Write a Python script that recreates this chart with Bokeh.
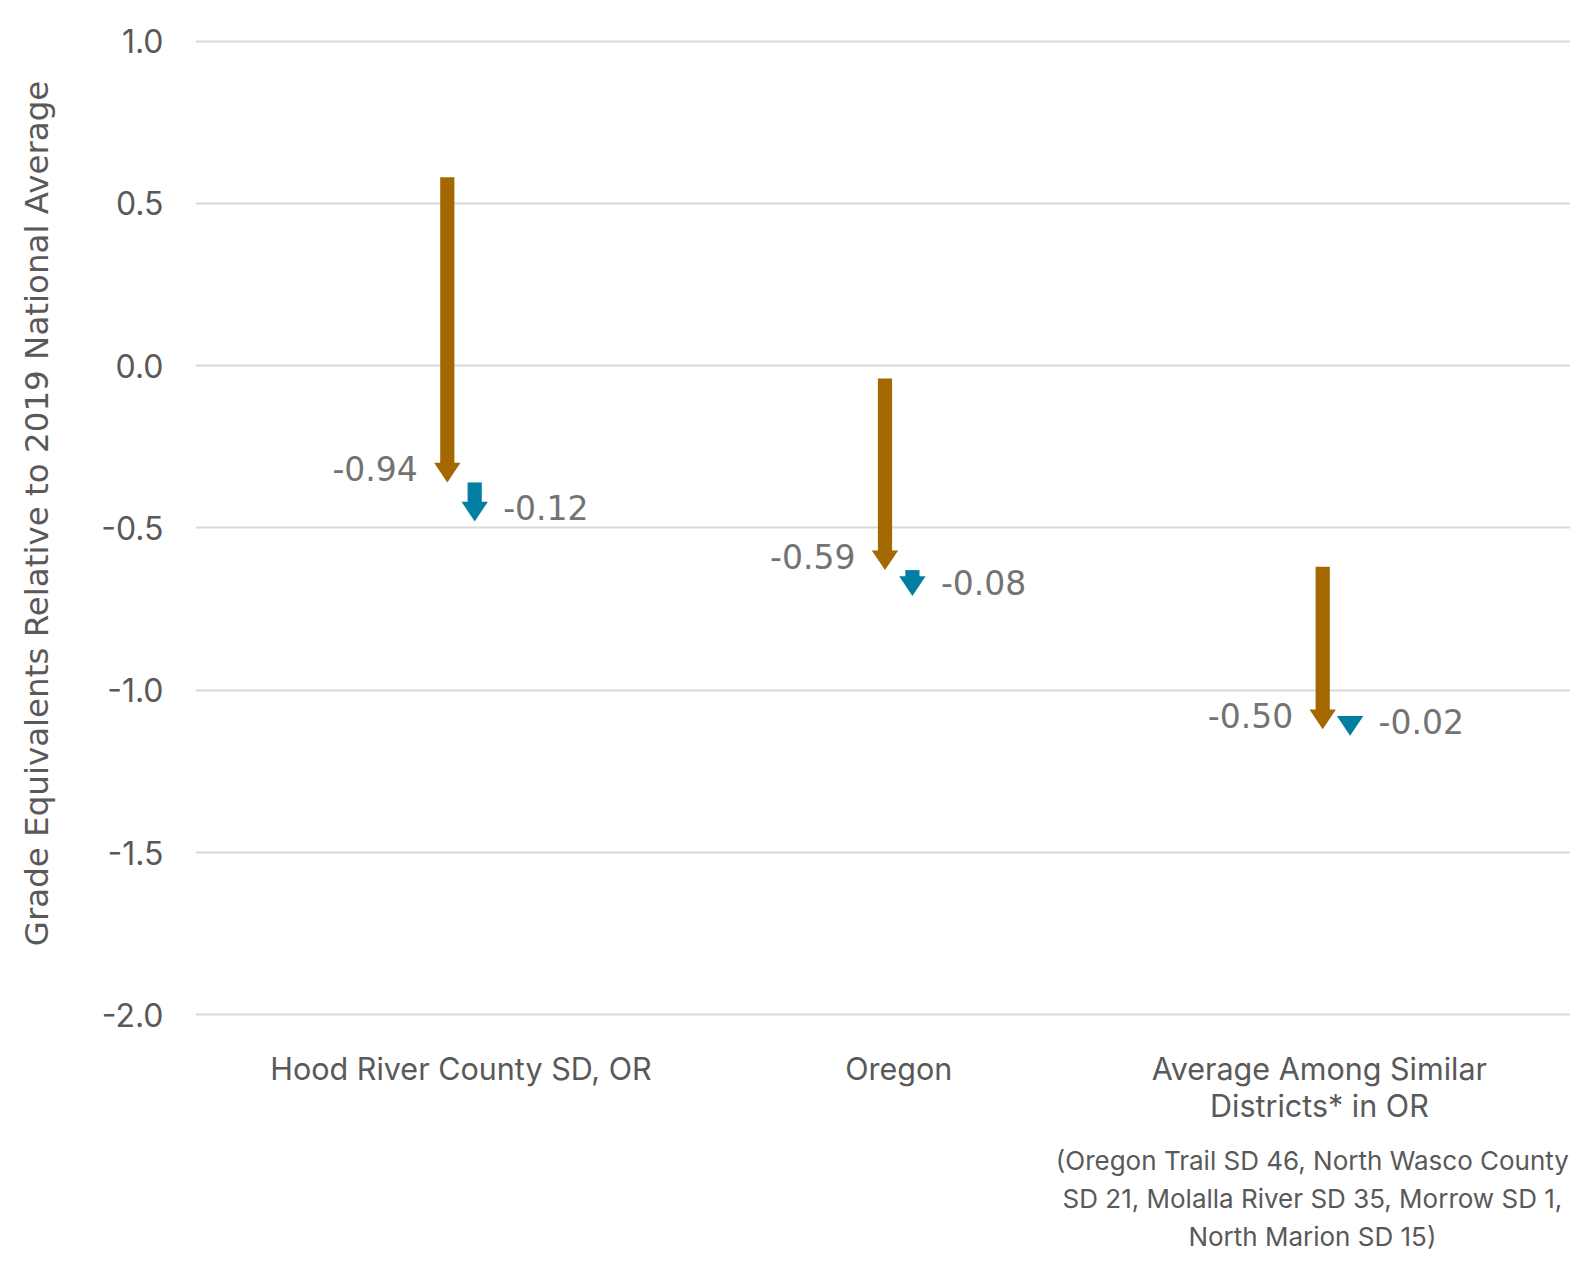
import numpy as np
from bokeh.plotting import figure
from bokeh.models import Range1d, FixedTicker, ColumnDataSource, LinearAxis
from bokeh.embed import file_html
from bokeh.resources import INLINE
from bokeh.core.properties import value

# ---------------- data ----------------
categories = ["Hood River County SD, OR", "Oregon", "Average Among Similar\nDistricts* in OR"]
start_values = [0.58, -0.04, -0.62]
brown_change = [-0.94, -0.59, -0.50]
blue_change = [-0.12, -0.08, -0.02]
brown_labels = ["-0.94", "-0.59", "-0.50"]
blue_labels = ["-0.12", "-0.08", "-0.02"]
y_ticks = [1.0, 0.5, 0.0, -0.5, -1.0, -1.5, -2.0]
y_tick_labels = ["1.0", "0.5", "0.0", "-0.5", "-1.0", "-1.5", "-2.0"]
y_title = "Grade Equivalents Relative to 2019 National Average"
footnote_lines = ["(Oregon Trail SD 46, North Wasco County",
                  "SD 21, Molalla River SD 35, Morrow SD 1,",
                  "North Marion SD 15)"]

# ---------------- styles / layout ----------------
BROWN = "#A36800"
BLUE = "#007FA3"
LABEL_GREY = "#737373"
TEXT_GREY = "#595959"
GRID = "#D9D9D9"

W, H = 1570, 1259
BL, BR, BT = 195, 0, 10
FRAME_BOTTOM = 1016
FRAME_H = FRAME_BOTTOM - BT
BB = H - FRAME_BOTTOM
FRAME_W = W - BL - BR

PX_X = 437.7          # pixels per category step
PX_Y = 324.6          # pixels per grade unit
x0 = -(460.5 - BL) / PX_X
x1 = x0 + FRAME_W / PX_X
y1 = 1.0 + 30.5 / PX_Y
y0 = y1 - FRAME_H / PX_Y

off = 13.7 / PX_X
hw = 13.2 / PX_X
hl = 19.7 / PX_Y
shaft_w = 14.2 / PX_X

xc = np.arange(len(categories), dtype=float)
start = np.array(start_values)
brown_end = start + np.array(brown_change)
blue_end = brown_end + np.array(blue_change)

p = figure(width=W, height=H, output_backend="svg", toolbar_location=None,
           title=None,
           x_range=Range1d(x0, x1), y_range=Range1d(y0, y1),
           min_border_left=BL, min_border_right=BR, min_border_top=BT,
           min_border_bottom=BB)
p.outline_line_color = None
p.background_fill_color = "white"
p.border_fill_color = "white"

p.xgrid.grid_line_color = None
p.ygrid.grid_line_color = GRID
p.ygrid.grid_line_width = 2
p.ygrid.ticker = FixedTicker(ticks=y_ticks)

# y axis
ya = p.yaxis[0]
ya.ticker = FixedTicker(ticks=y_ticks)
ya.major_label_overrides = {t: s for t, s in zip(y_ticks, y_tick_labels)}
ya.axis_line_color = None
ya.major_tick_line_color = None
ya.minor_tick_line_color = None
ya.major_label_standoff = 26
ya.major_label_text_font = "Inter"
ya.major_label_text_font_size = "32px"
ya.major_label_text_color = TEXT_GREY
ya.axis_label = y_title
ya.axis_label_text_font = "DejaVu Sans"
ya.axis_label_text_font_size = "32.5px"
ya.axis_label_text_font_style = "normal"
ya.axis_label_text_color = TEXT_GREY
ya.axis_label_standoff = 42

# x axis (categories); the wrapped third label sits slightly left, as in the source
label_x = xc.copy()
label_x[2] -= 17 / PX_X
xa = p.xaxis[0]
xa.ticker = FixedTicker(ticks=list(label_x))
xa.major_label_overrides = {float(lx): c for lx, c in zip(label_x, categories)}
xa.axis_line_color = None
xa.major_tick_line_color = None
xa.minor_tick_line_color = None
xa.major_label_standoff = 27
xa.major_label_text_font = "Inter"
xa.major_label_text_font_size = "30.5px"
xa.major_label_text_color = TEXT_GREY
xa.major_label_text_line_height = 1.0

# footnote as a second axis below, under the third category
foot_x = 2 + (1312 - 1336) / PX_X
fa = LinearAxis(ticker=FixedTicker(ticks=[foot_x]),
                major_label_overrides={float(foot_x): "\n".join(footnote_lines)})
fa.axis_line_color = None
fa.major_tick_line_color = None
fa.minor_tick_line_color = None
fa.major_label_standoff = 12
fa.major_label_text_font = "Inter"
fa.major_label_text_font_size = "26px"
fa.major_label_text_color = TEXT_GREY
fa.major_label_text_line_height = 1.24
p.add_layout(fa, "below")

def draw_arrow(x, top, end, color):
    bottom = end + hl - 0.002
    top_eff = np.maximum(top, bottom)
    p.vbar(x=x, width=shaft_w, top=top_eff, bottom=bottom, fill_color=color,
           line_color=None)
    xs = [[xi - hw, xi + hw, xi] for xi in x]
    ys = [[e + hl, e + hl, e] for e in end]
    p.patches(xs=xs, ys=ys, fill_color=color, line_color=None)

draw_arrow(xc - off, start, brown_end, BROWN)
draw_arrow(xc + off, brown_end, blue_end, BLUE)

src_b = ColumnDataSource(dict(x=xc - off, y=brown_end, t=brown_labels))
p.text(x="x", y="y", text="t", source=src_b, x_offset=-29.5, y_offset=-14,
       text_align="right", text_baseline="middle",
       text_font=value("DejaVu Sans"), text_font_size="33px",
       text_color=LABEL_GREY)
src_u = ColumnDataSource(dict(x=xc + off, y=blue_end, t=blue_labels))
p.text(x="x", y="y", text="t", source=src_u, x_offset=28.5, y_offset=-14,
       text_align="left", text_baseline="middle",
       text_font=value("DejaVu Sans"), text_font_size="33px",
       text_color=LABEL_GREY)

open("out.html", "w").write(file_html(p, INLINE))
